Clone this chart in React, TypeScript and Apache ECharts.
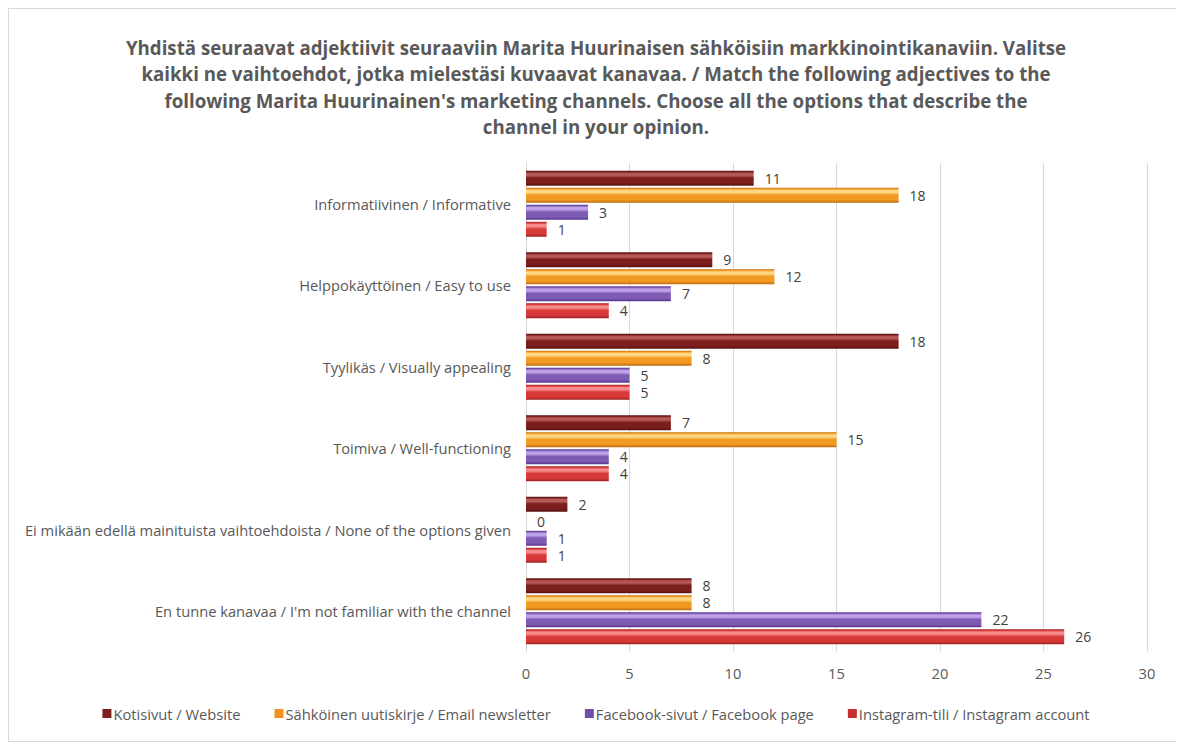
import React, { useEffect, useRef } from "react";
import * as echarts from "echarts";

const categories = [
  "Informatiivinen / Informative",
  "Helppokäyttöinen / Easy to use",
  "Tyylikäs / Visually appealing",
  "Toimiva / Well-functioning",
  "Ei mikään edellä mainituista vaihtoehdoista / None of the options given",
  "En tunne kanavaa / I'm not familiar with the channel",
];

const seriesNames = [
  "Kotisivut / Website",
  "Sähköinen uutiskirje / Email newsletter",
  "Facebook-sivut / Facebook page",
  "Instagram-tili / Instagram account",
];

const websiteValues = [11, 9, 18, 7, 2, 8];
const newsletterValues = [18, 12, 8, 15, 0, 8];
const facebookValues = [3, 7, 5, 4, 1, 22];
const instagramValues = [1, 4, 5, 4, 1, 26];

const xTicks = { min: 0, max: 30, interval: 5 };

const titleLines = [
  "Yhdistä seuraavat adjektiivit seuraaviin Marita Huurinaisen sähköisiin markkinointikanaviin. Valitse",
  "kaikki ne vaihtoehdot, jotka mielestäsi kuvaavat kanavaa. / Match the following adjectives to the",
  "following Marita Huurinainen's marketing channels. Choose all the options that describe the",
  "channel in your opinion.",
];

const palettes = [
  { light: "#b45858", base: "#7d1e1e", dark: "#561212", legend: "#7d1e1e" },
  { light: "#ffd682", base: "#f39a22", dark: "#bf6a10", legend: "#f09020" },
  { light: "#bda2e8", base: "#7f5bb6", dark: "#56388a", legend: "#7050a8" },
  { light: "#f58a8a", base: "#d83a3a", dark: "#9e2020", legend: "#c83030" },
];

function grad(p: { light: string; base: string; dark: string }) {
  return new echarts.graphic.LinearGradient(0, 0, 0, 1, [
    { offset: 0, color: p.dark },
    { offset: 0.08, color: p.base },
    { offset: 0.18, color: p.light },
    { offset: 0.32, color: p.light },
    { offset: 0.48, color: p.base },
    { offset: 0.8, color: p.base },
    { offset: 1, color: p.dark },
  ]);
}

export default function App() {
  const ref = useRef<HTMLDivElement>(null);
  useEffect(() => {
    if (!ref.current) return;
    const chart = echarts.init(ref.current, null, { renderer: "svg" });
    const allValues = [websiteValues, newsletterValues, facebookValues, instagramValues];
    const font = "'Open Sans', 'Noto Sans', sans-serif";
    chart.setOption({
      animation: false,
      backgroundColor: "#ffffff",
      textStyle: { fontFamily: font },
      title: {
        text: titleLines.join("\n"),
        left: "center",
        top: 20,
        textStyle: {
          fontFamily: font,
          fontSize: 18.7,
          fontWeight: "bold",
          color: "#595959",
          lineHeight: 26.5,
        },
      },
      legend: {
        bottom: 15,
        left: "center",
        itemWidth: 9,
        itemHeight: 9,
        itemGap: 34,
        icon: "rect",
        textStyle: { fontFamily: font, fontSize: 14.7, color: "#595959", padding: [0, 0, 0, -3] },
        data: seriesNames.map((n, i) => ({
          name: n,
          itemStyle: { color: palettes[i].legend },
        })),
      },
      grid: { left: 517, right: 36, top: 154, bottom: 89, containLabel: false },
      xAxis: {
        type: "value",
        min: xTicks.min,
        max: xTicks.max,
        interval: xTicks.interval,
        axisLine: { show: false },
        axisTick: { show: false },
        splitLine: { show: true, lineStyle: { color: "#d9d9d9", width: 1 } },
        axisLabel: { fontFamily: font, fontSize: 14.7, color: "#595959", margin: 13 },
      },
      yAxis: {
        type: "category",
        data: categories,
        inverse: true,
        axisLine: { show: true, lineStyle: { color: "#d9d9d9", width: 1 } },
        axisTick: { show: false },
        axisLabel: { fontFamily: font, fontSize: 14.7, color: "#595959", margin: 15 },
      },
      series: seriesNames.map((name, i) => ({
        name,
        type: "bar",
        data: allValues[i],
        barGap: "14%",
        barCategoryGap: "19%",
        itemStyle: {
          color: grad(palettes[i]),
        },
        label: {
          show: true,
          position: "right",
          distance: 11,
          fontFamily: font,
          fontSize: 14,
          lineHeight: 14,
          color: "#404040",
        },
      })),
    });
    return () => chart.dispose();
  }, []);
  return (
    <div
      ref={ref}
      style={{
        width: 1176,
        height: 734,
        border: "1px solid #d9d9d9",
        boxSizing: "border-box",
      }}
    />
  );
}
